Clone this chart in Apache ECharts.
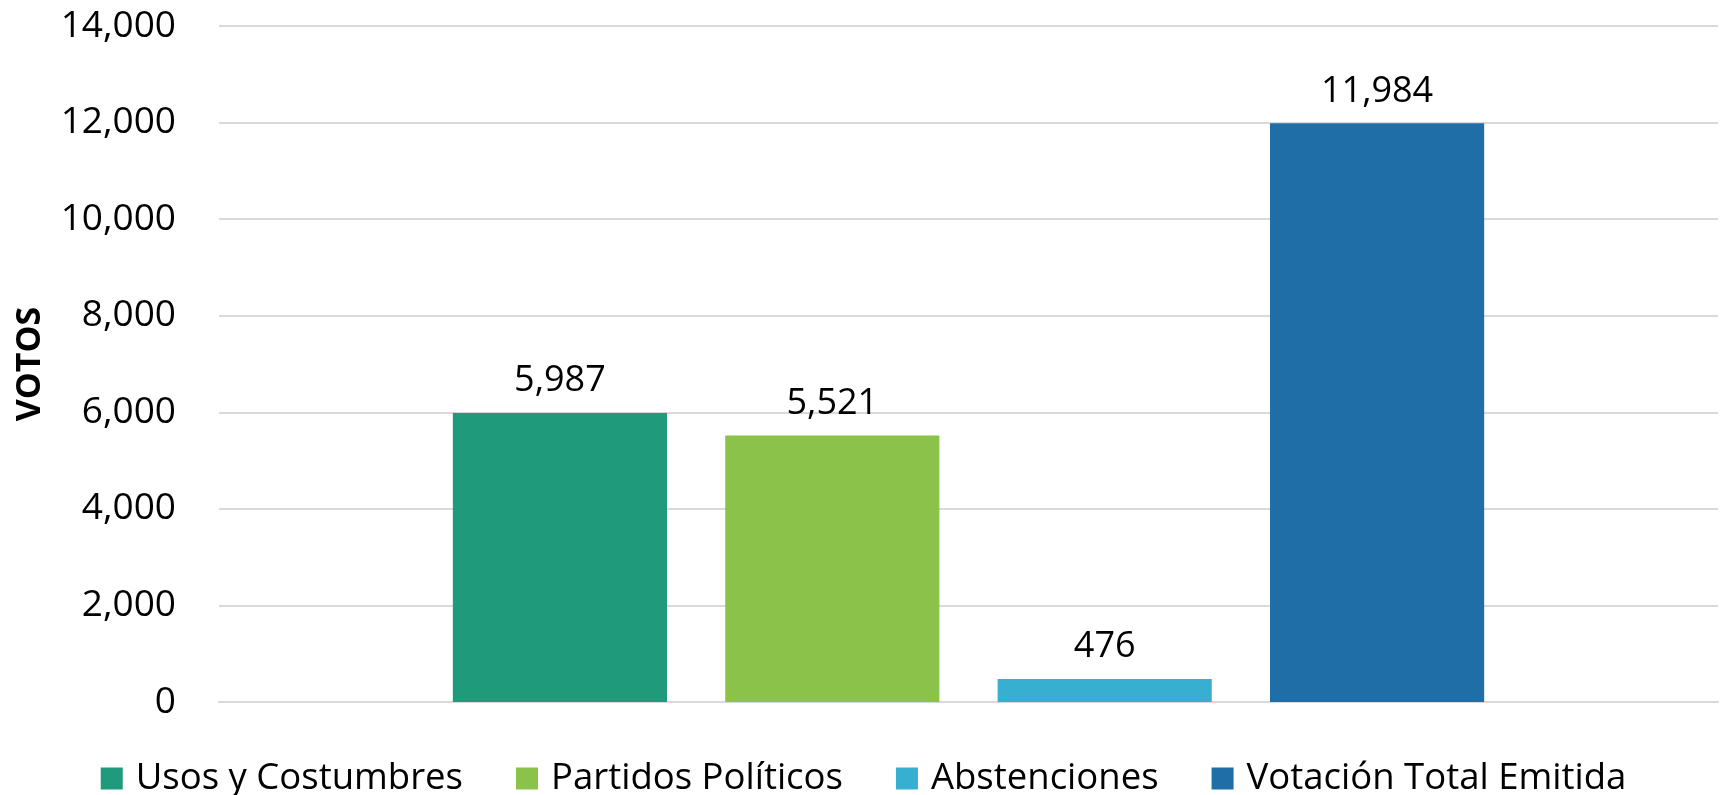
<!DOCTYPE html>
<html>
<head>
<meta charset="utf-8">
<script src="https://cdn.jsdelivr.net/npm/echarts@6/dist/echarts.min.js"></script>
<style>
  html, body { margin: 0; padding: 0; background: #fff; }
  #chart { width: 1727px; height: 795px; }
</style>
</head>
<body>
<div id="chart"></div>
<script>
const seriesNames = ['Usos y Costumbres', 'Partidos Políticos', 'Abstenciones', 'Votación Total Emitida']
const seriesValues = [5987, 5521, 476, 11984]
const seriesColors = ['#1F9B7B', '#8BC249', '#37AFD0', '#1F6EA8']
const yTicks = { min: 0, max: 14000, interval: 2000 }

const fontFamily = '"Open Sans", "Noto Sans", sans-serif'
const chart = echarts.init(document.getElementById('chart'))

const series = seriesNames.map((name, i) => ({
  name,
  type: 'bar',
  data: [seriesValues[i]],
  itemStyle: { color: seriesColors[i] },
  barCategoryGap: '31.2%',
  barGap: '27.2%',
  label: {
    show: true,
    position: 'top',
    distance: 14,
    color: '#000',
    fontFamily,
    fontSize: 36,
    formatter: p => p.value.toLocaleString('en-US')
  }
}))

chart.setOption({
  backgroundColor: '#fff',
  animation: false,
  grid: { left: 219, right: 9, top: 26, bottom: 93, outerBoundsMode: 'none' },
  legend: {
    bottom: -7,
    left: 'center',
    itemWidth: 22,
    itemHeight: 22,
    itemGap: 53,
    icon: 'rect',
    textStyle: { fontFamily, fontSize: 36.5, color: '#000', padding: [0, 0, 0, 8] },
    data: seriesNames
  },
  xAxis: {
    type: 'category',
    data: [''],
    axisLine: { show: true, lineStyle: { color: '#d9d9d9', width: 2 } },
    axisTick: { show: false },
    axisLabel: { show: false }
  },
  yAxis: {
    type: 'value',
    min: yTicks.min,
    max: yTicks.max,
    interval: yTicks.interval,
    name: 'VOTOS',
    nameLocation: 'middle',
    nameGap: 172,
    nameRotate: 90,
    nameTextStyle: { fontFamily, fontSize: 34, fontWeight: 'bold', color: '#000' },
    axisLine: { show: false },
    axisTick: { show: false },
    axisLabel: {
      margin: 43,
      fontFamily,
      fontSize: 37,
      color: '#000',
      formatter: v => v.toLocaleString('en-US')
    },
    splitLine: { lineStyle: { color: '#d9d9d9', width: 2 } }
  },
  series
})
</script>
</body>
</html>
